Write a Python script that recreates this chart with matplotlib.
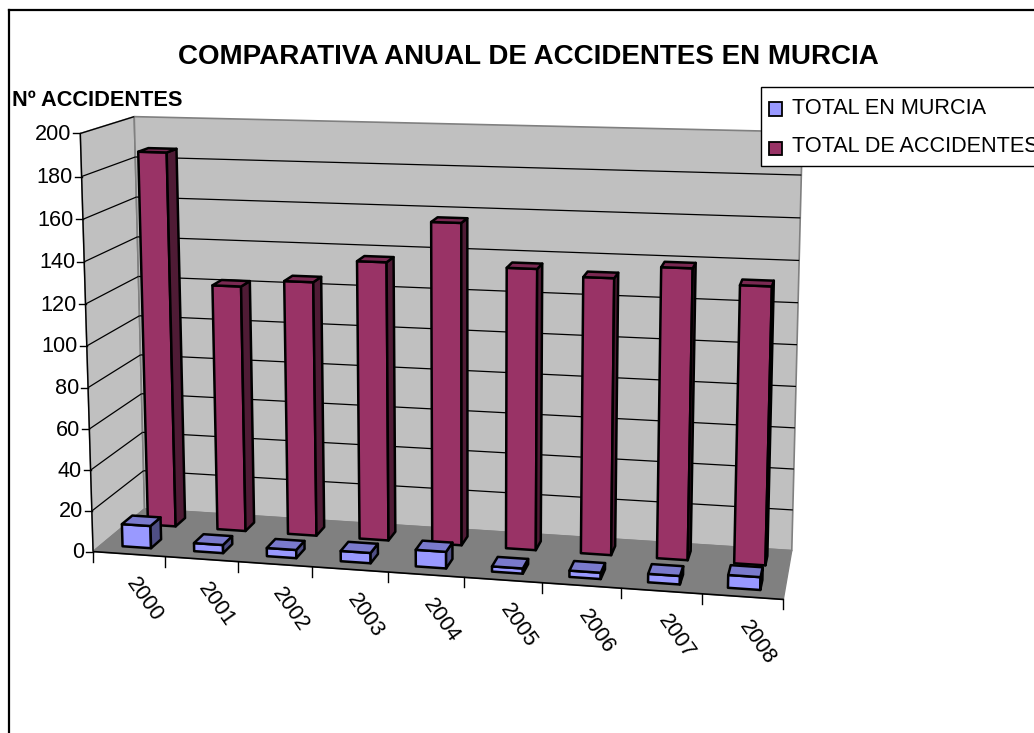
import numpy as np
import matplotlib
matplotlib.use("Agg")
import matplotlib.pyplot as plt
from matplotlib.patches import Polygon, Rectangle

# ============================================================
# DATA
# ============================================================
years = ["2000", "2001", "2002", "2003", "2004", "2005", "2006", "2007", "2008"]
total_murcia = [11, 4, 4, 5, 8, 2.5, 3, 4, 6]
total_accidentes = [186, 122, 125.5, 136.5, 156.5, 136, 133, 139, 132]
value_ticks = [0, 20, 40, 60, 80, 100, 120, 140, 160, 180, 200]

plt.rcParams["font.family"] = ["Liberation Sans", "DejaVu Sans"]

# ============================================================
# PROJECTION (category, depth, value) -> pixels
# ============================================================
n_cat = len(years)
z_max = value_ticks[-1]
world = [(0, 0, 0), (0, 1, 0), (n_cat, 1, 0), (n_cat, 0, 0),
         (0, 0, z_max), (0, 1, z_max), (n_cat, 1, z_max)]
pix = [(92.7, 551.5), (145, 509), (792, 550), (783, 600),
       (81, 133), (133.5, 117), (802.5, 132)]

A, b = [], []
for (x, y, z), (u, v) in zip(world, pix):
    A.append([x, y, z, 1, 0, 0, 0, 0, -u * x, -u * y, -u * z])
    A.append([0, 0, 0, 0, x, y, z, 1, -v * x, -v * y, -v * z])
    b += [u, v]
coef = np.linalg.lstsq(np.array(A, float), np.array(b, float), rcond=None)[0]
P = np.append(coef, 1).reshape(3, 4)


def project(x, y, z):
    w = P @ np.array([x, y, z, 1.0])
    return w[0] / w[2], w[1] / w[2]


def face(pts, fc, ec="black", lw=1.8, zo=2):
    ax.add_patch(Polygon([project(*p) for p in pts], closed=True, facecolor=fc,
                         edgecolor=ec, linewidth=lw, joinstyle="round", zorder=zo))


def line3(p, q, color="black", lw=1.0, zo=1.5):
    a, c = project(*p), project(*q)
    ax.plot([a[0], c[0]], [a[1], c[1]], color=color, lw=lw, zorder=zo,
            solid_capstyle="butt")


def bar(i, row, value, colors):
    x0, x1 = i + 0.3, i + 0.7
    y0, y1 = row * 0.5 + 0.15, row * 0.5 + 0.35
    front, side, top = colors
    face([(x0, y0, 0), (x1, y0, 0), (x1, y0, value), (x0, y0, value)], front)
    face([(x1, y0, 0), (x1, y1, 0), (x1, y1, value), (x1, y0, value)], side)
    face([(x0, y0, value), (x1, y0, value), (x1, y1, value), (x0, y1, value)], top)


# ============================================================
# FIGURE
# ============================================================
fig = plt.figure(figsize=(10.34, 7.33), dpi=100)
ax = fig.add_axes([0, 0, 1, 1])
ax.set_xlim(0, 1034)
ax.set_ylim(733, 0)
ax.axis("off")

# outer frame
ax.plot([9, 9], [733, 9.5], color="black", lw=1.6, zorder=5)
ax.plot([9, 1034], [9.5, 9.5], color="black", lw=1.6, zorder=5)

# walls and floor
wall_grey = "#C0C0C0"
edge_grey = "#808080"
face([(0, 0, 0), (0, 1, 0), (0, 1, z_max), (0, 0, z_max)], wall_grey, edge_grey, 1.2, 1)
face([(0, 1, 0), (n_cat, 1, 0), (n_cat, 1, z_max), (0, 1, z_max)], wall_grey, edge_grey, 1.2, 1)
face([(0, 0, 0), (n_cat, 0, 0), (n_cat, 1, 0), (0, 1, 0)], edge_grey, edge_grey, 1.0, 1)

# gridlines
for v in value_ticks[1:]:
    line3((0, 0, v), (0, 1, v), lw=0.9)
    if v < z_max:
        line3((0, 1, v), (n_cat, 1, v), lw=0.9)

# axes
line3((0, 0, 0), (0, 0, z_max), lw=1.0, zo=1.6)
line3((0, 0, 0), (n_cat, 0, 0), lw=1.2, zo=1.6)
for v in value_ticks:
    u, w = project(0, 0, v)
    ax.plot([u - 7, u], [w, w], color="black", lw=1.0, zorder=1.6)
    ax.text(u - 9, w + 1, str(v), ha="right", va="center", fontsize=15.6, color="black")
for i in range(n_cat + 1):
    u, w = project(i, 0, 0)
    ax.plot([u, u], [w, w + 10], color="black", lw=1.0, zorder=1.6)
for i, yr in enumerate(years):
    u, w = project(i + 0.5, 0, 0)
    ax.text(u + 15, w + 46, yr, ha="center", va="center", rotation=-55,
            rotation_mode="anchor", fontsize=15.6, color="black")

# bars, back row first
maroon = ("#993366", "#4F1B35", "#7A2952")
blue = ("#9999FF", "#4F4F85", "#7A7ACC")
for i, v in enumerate(total_accidentes):
    bar(i, 1, v, maroon)
for i, v in enumerate(total_murcia):
    bar(i, 0, v, blue)

# titles
ax.text(528.5, 57, "COMPARATIVA ANUAL DE ACCIDENTES EN MURCIA", ha="center", va="center",
        fontsize=19.95, fontweight="bold", color="black")
ax.text(12, 101, "Nº ACCIDENTES", ha="left", va="center", fontsize=15.7, fontweight="bold",
        color="black")

# legend
ax.add_patch(Rectangle((761, 87), 300, 79, facecolor="white", edgecolor="black", lw=1.0, zorder=6))
ax.add_patch(Rectangle((769, 102), 12.5, 13.5, facecolor=blue[0], edgecolor="black", lw=1.3, zorder=7))
ax.add_patch(Rectangle((769, 141.5), 12.5, 13.5, facecolor=maroon[0], edgecolor="black", lw=1.3, zorder=7))
ax.text(792, 108, "TOTAL EN MURCIA", ha="left", va="center", fontsize=15.6, zorder=7)
ax.text(792, 147, "TOTAL DE ACCIDENTES", ha="left", va="center", fontsize=15.6, zorder=7)

fig.savefig("out.png", dpi=100)
